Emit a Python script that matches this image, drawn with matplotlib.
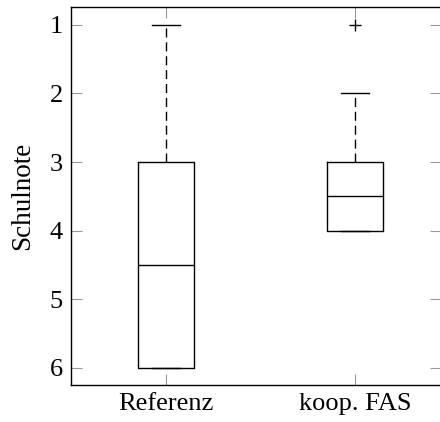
import matplotlib
matplotlib.use("Agg")
import matplotlib.pyplot as plt

categories = ["Referenz", "koop. FAS"]
medians = [4.5, 3.5]
q1 = [3.0, 3.0]
q3 = [6.0, 4.0]
whisker_lo = [1.0, 2.0]
whisker_hi = [6.0, 4.0]
fliers = [[], [1.0]]
yticks = [1, 2, 3, 4, 5, 6]

plt.rcParams['font.family'] = ['Liberation Serif', 'DejaVu Serif']

fig = plt.figure(figsize=(4.4, 4.22), dpi=100)
ax = fig.add_axes([71/440, 1-385/422, 370/440, 378/422])

stats = []
for i, c in enumerate(categories):
    stats.append(dict(label=c, med=medians[i], q1=q1[i], q3=q3[i],
                      whislo=whisker_lo[i], whishi=whisker_hi[i], fliers=fliers[i]))

ax.bxp(stats, positions=[1, 2], widths=0.30, showfliers=True,
       boxprops=dict(color='black', linewidth=1.0),
       medianprops=dict(color='black', linewidth=1.0),
       whiskerprops=dict(color='black', linewidth=1.0, linestyle=(0, (6.5, 3.5))),
       capprops=dict(color='black', linewidth=1.0),
       capwidths=0.15,
       flierprops=dict(marker='+', markeredgecolor='black', markersize=8, markeredgewidth=1.0))

ax.set_xlim(0.497, 2.455)
ax.set_ylim(6.25, 0.74)
ax.set_yticks(yticks)
ax.set_yticklabels([str(t) for t in yticks])
ax.set_xticks([1, 2])
ax.set_xticklabels(categories)
ax.set_ylabel("Schulnote", fontsize=19.5, labelpad=10)
ax.tick_params(direction='in', length=8, width=0.8, color='#999999',
               labelsize=19, top=True, right=True, pad=6)
for s in ax.spines.values():
    s.set_linewidth(1.0)

fig.savefig("out.png", dpi=100)
